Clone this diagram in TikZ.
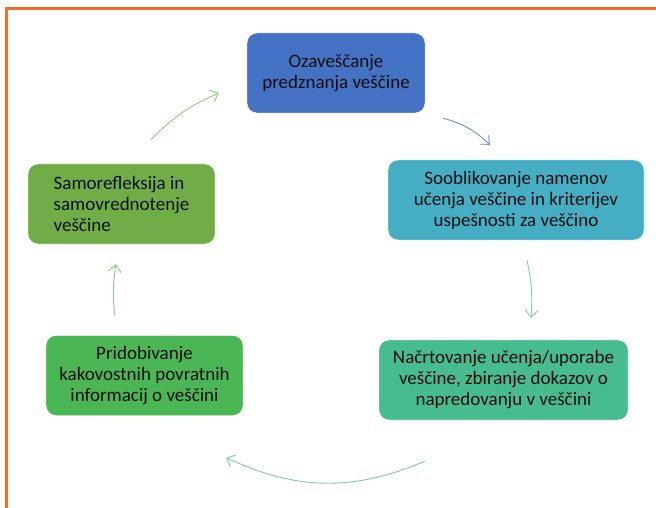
\documentclass[tikz,border=0pt]{standalone}
\usepackage{fontspec}
\setmainfont{Carlito}
\usetikzlibrary{arrows.meta, positioning, calc}
\definecolor{Frame}{HTML}{F07025}
\definecolor{Ink}{HTML}{0D0D0D}
\definecolor{Blue}{HTML}{4472C4}
\definecolor{Teal}{HTML}{45AEC4}
\definecolor{Sea}{HTML}{47BC8E}
\definecolor{Green}{HTML}{4BB654}
\definecolor{Olive}{HTML}{70AD47}

\begin{document}
\begin{tikzpicture}[
  x=1pt, y=-1pt,
  font=\fontsize{19}{21}\selectfont, text=Ink,
  block/.style={rounded corners=10pt, draw=white, thin, align=center, minimum height=80pt, inner sep=2pt},
  blue/.style={block, fill=Blue, minimum width=178pt},
  teal/.style={block, fill=Teal, minimum width=256pt},
  sea/.style={block, fill=Sea, minimum width=249pt},
  green/.style={block, fill=Green, minimum width=197pt},
  olive/.style={block, fill=Olive, minimum width=187pt, align=left},
  arrow/.style={-{Straight Barb[length=7pt, width=13pt]}, line width=0.9pt}
]
\useasboundingbox (0,0) rectangle (656,508);
\draw[Frame, line width=3pt] (6.5,508) -- (6.5,8.5) -- (656,8.5);

\node[blue] (aware) at (336,73) {Ozaveščanje\\predznanja veščine};
\node[teal] (goals) at (516,200) {Sooblikovanje namenov\\učenja veščine in kriterijev\\uspešnosti za veščino};
\node[sea] (plan) at (503.5,380) {Načrtovanje učenja/uporabe\\veščine, zbiranje dokazov o\\napredovanju v veščini};
\node[green] (feed) at (144.5,375.5) {Pridobivanje\\kakovostnih povratnih\\informacij o veščini};
\node[olive] (self) at (121.5,204) {Samorefleksija in\\samovrednotenje\\veščine};

% arrow ends around the cycle
\coordinate (a1s) at ($(aware.south east)+(18,5)$);
\coordinate (a1e) at ($(goals.north west)+(102,-15)$);
\coordinate (a2s) at ($(goals.south)+(11,20)$);
\coordinate (a2e) at ($(plan.north)+(27.5,-22)$);
\coordinate (a3s) at ($(plan.south west)+(46,41)$);
\coordinate (a3e) at ($(feed.south east)+(-17,42)$);
\coordinate (a4s) at ($(feed.north)+(-29.5,-19)$);
\coordinate (a4e) at ($(self.south)+(-5.5,20)$);
\coordinate (a5s) at ($(self.north)+(29.5,-24)$);
\coordinate (a5e) at ($(aware.west)+(-28,20)$);

\draw[arrow, Blue!80] (a1s) to[bend left=14] (a1e);
\draw[arrow, Teal!70] (a2s) to[bend left=8] (a2e);
\draw[arrow, Sea!75] (a3s) to[bend left=24] (a3e);
\draw[arrow, Green!70] (a4s) to[bend left=8] (a4e);
\draw[arrow, Olive!70] (a5s) to[bend left=11] (a5e);
\end{tikzpicture}
\end{document}
